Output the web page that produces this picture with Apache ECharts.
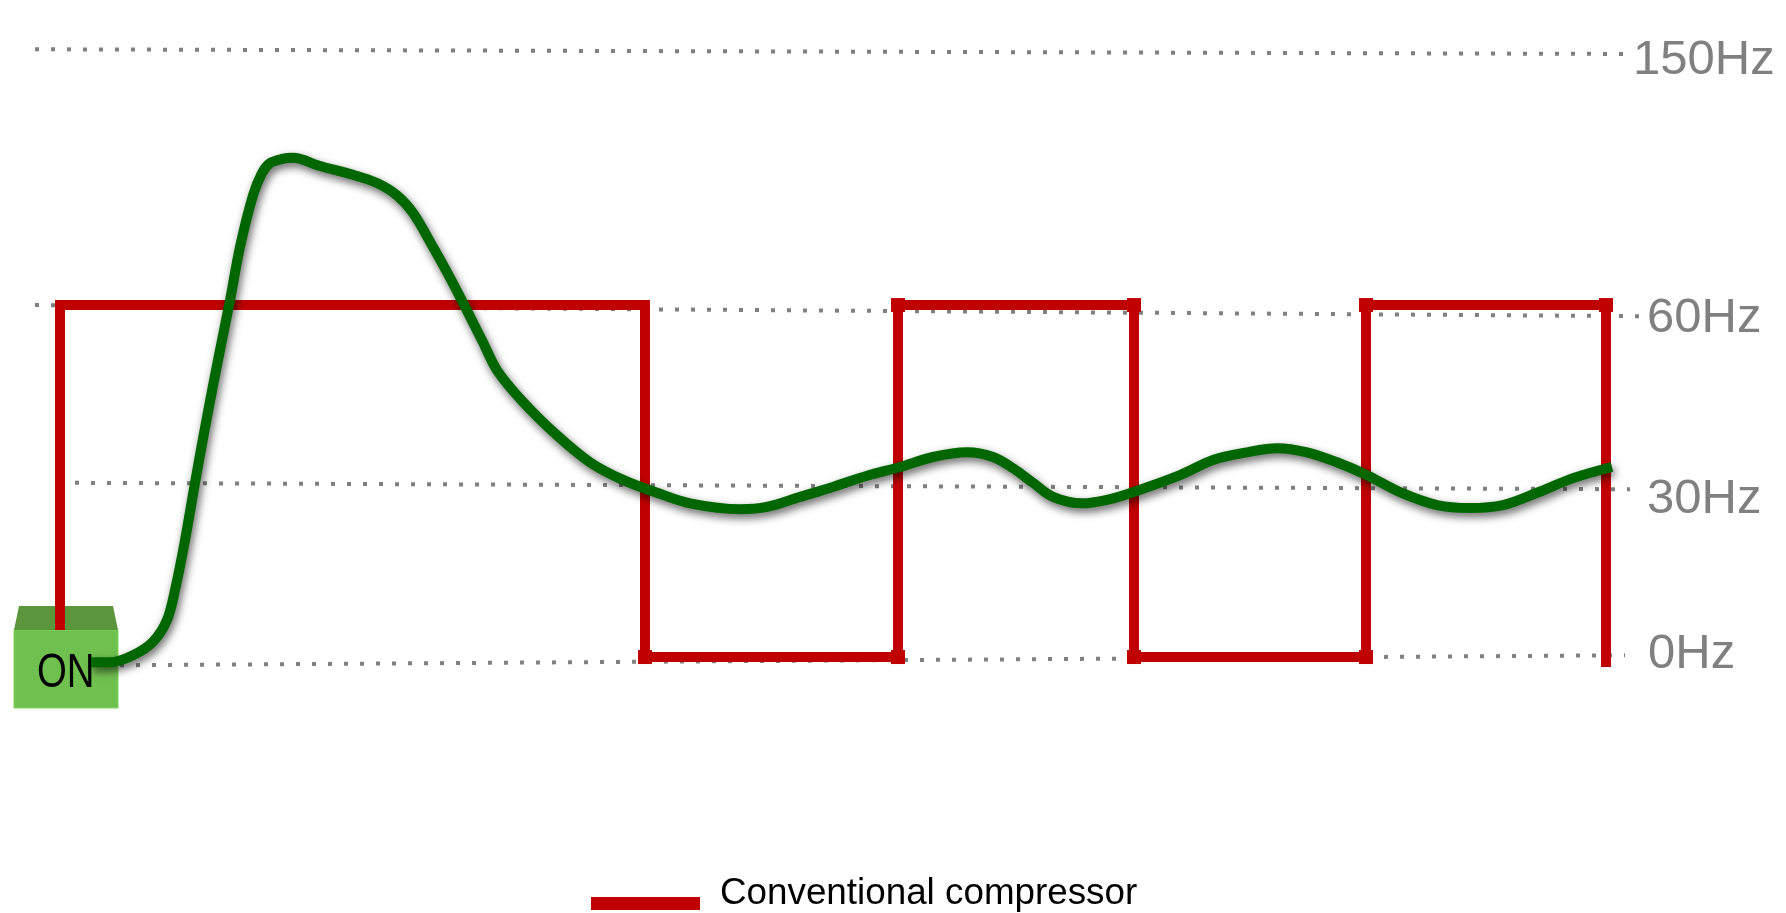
<!DOCTYPE html>
<html>
<head>
<meta charset="utf-8">
<title>Compressor frequency</title>
<script src="https://cdn.jsdelivr.net/npm/echarts@6/dist/echarts.min.js"></script>
<style>
  html, body { margin: 0; padding: 0; background: #fff; }
  #chart { width: 1786px; height: 913px; }
</style>
</head>
<body>
<div id="chart"></div>
<script>
// the frequency scale in the picture is schematic, so 150Hz sits at level ~103
const refLabels = ['150Hz', '60Hz', '30Hz', '0Hz'];
const refX = [[35, 1625], [35, 1640], [75, 1630], [120, 1625]];
const refLevel = [[103.6, 102.8], [60, 58.1], [29.7, 28.6], [-1.4, 0.3]];

const conventionalX = [60, 60, 645, 645, 898, 898, 1134, 1134, 1366, 1366, 1606, 1606];
const conventionalHz = [4.6, 60, 60, 0, 0, 60, 60, 0, 0, 60, 60, -1.7];

const inverterX = [91, 110, 133, 153, 167, 175, 185, 195, 207, 218, 230, 240, 253, 262, 270, 282, 293, 320, 353, 377,
  397, 413, 433, 453, 482, 497, 523, 557, 590, 623, 657, 690, 740, 767, 800, 833, 867, 900, 933, 967,
  993, 1013, 1033, 1053, 1082, 1107, 1133, 1180, 1213, 1247, 1277, 1307, 1337, 1367, 1400, 1437, 1470, 1503, 1537, 1573, 1612];
const inverterHz = [-0.9, -0.9, 0.3, 2.6, 6.3, 11.4, 19.9, 29.7, 40.9, 50.6, 60.8, 69.9, 78.7, 82.5, 84.2, 84.9, 85.1, 83.7, 82.2, 80.8,
  78.7, 75.7, 69.9, 63.7, 54, 48.9, 43.5, 37.8, 33.2, 30.2, 28, 26.2, 25.2, 25.6, 27.3, 29, 30.9, 32.4, 34.1, 34.9,
  34.1, 32.2, 29.7, 27.3, 26.2, 26.8, 28.1, 31, 33.6, 34.9, 35.6, 34.9, 33.2, 31, 28.1, 25.9, 25.4, 25.9, 28, 30.5, 32.4];

const pair = (xs, ys) => xs.map((x, i) => [x, ys[i]]);

const labelOffsets = [[0, 7], [-1, 2], [9, 10], [15, -1]];

const refSeries = refLabels.map((label, i) => ({
  name: label,
  type: 'line',
  data: pair(refX[i], refLevel[i]),
  showSymbol: false,
  silent: true,
  z: 1,
  lineStyle: { color: '#808080', width: 4, type: [4, 12] },
  endLabel: {
    show: true,
    formatter: label,
    color: '#808080',
    fontSize: 49,
    fontFamily: '"Liberation Sans", Arial, sans-serif',
    distance: 8,
    offset: labelOffsets[i]
  }
}));

const chart = echarts.init(document.getElementById('chart'));

chart.setOption({
  animation: false,
  backgroundColor: '#fff',
  grid: { left: 0, right: 0, top: 0, bottom: 21.3 },
  xAxis: { type: 'value', min: 0, max: 1786, show: false },
  yAxis: { type: 'value', min: -40, max: 112, show: false },
  legend: {
    data: ['Conventional compressor'],
    left: 586,
    top: 870,
    // swatch sits lower than the text in the picture, the empty subpath keeps the box tall
    icon: 'path://M0 0L0 0M0 20L109 20L109 33L0 33Z',
    itemWidth: 109,
    itemHeight: 33.6,
    selectedMode: false,
    textStyle: {
      color: '#000',
      fontSize: 36.8,
      fontFamily: '"Liberation Sans", Arial, sans-serif',
      padding: [0, 0, 0, 15]
    }
  },
  // the ON box is a plain drawing, not data
  graphic: [
    { type: 'rect', z: 1, shape: { x: 14, y: 630, width: 104, height: 78 },
      style: { fill: '#70c04f', stroke: '#7fd65c', lineWidth: 1 } },
    { type: 'polygon', z: 1, shape: { points: [[19, 606], [113, 606], [118, 630], [14, 630]] },
      style: { fill: '#5b963c' } },
    { type: 'text', z: 1, x: 37, y: 650, scaleX: 0.8,
      style: { text: 'ON', fill: '#000', fontSize: 48, fontFamily: '"Liberation Sans", sans-serif' } }
  ],
  series: [
    ...refSeries,
    {
      name: 'Conventional compressor',
      type: 'line',
      data: pair(conventionalX, conventionalHz),
      // the corners after the first drop have small square overhangs
      symbol: (value, params) => (params.dataIndex >= 3 && params.dataIndex <= 10 ? 'rect' : 'none'),
      symbolSize: 14,
      showAllSymbol: true,
      z: 3,
      itemStyle: { color: '#c00000' },
      lineStyle: { color: '#c00000', width: 10, join: 'miter', cap: 'butt' }
    },
    {
      name: 'Inverter compressor',
      type: 'line',
      data: pair(inverterX, inverterHz),
      smooth: 0.33,
      showSymbol: false,
      z: 4,
      lineStyle: {
        color: '#006600',
        width: 10,
        cap: 'butt',
        shadowColor: 'rgba(0,0,0,0.6)',
        shadowBlur: 8,
        shadowOffsetX: 2,
        shadowOffsetY: 4
      }
    }
  ]
});

window.addEventListener('resize', () => chart.resize());
</script>
</body>
</html>
